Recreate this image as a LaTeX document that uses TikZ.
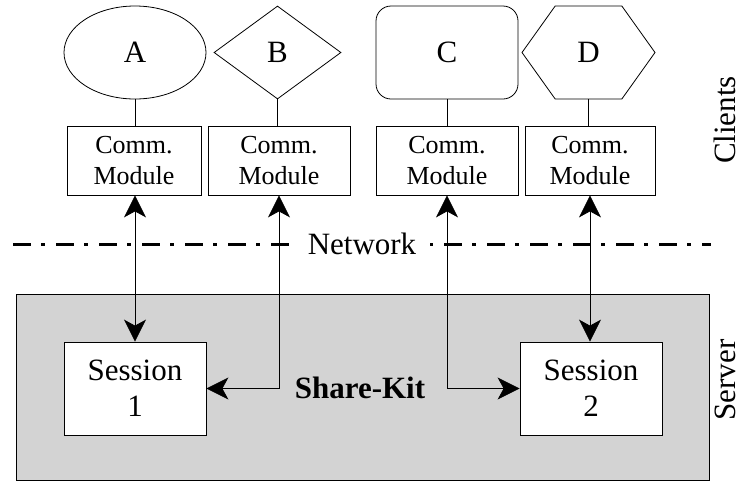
\documentclass[tikz,border=0pt]{standalone}
\usepackage{fontspec}
\setmainfont{Liberation Serif}
\usetikzlibrary{arrows.meta,shapes.geometric,shapes.symbols}

\definecolor{kitgray}{RGB}{211,211,211}

\tikzset{
	client/.style={draw, line width=0.8pt, inner sep=0pt, minimum width=142pt, minimum height=93pt, font=\fontsize{31}{36}\selectfont},
	commbox/.style={draw, line width=0.8pt, inner sep=0pt, minimum height=69pt, align=center, font=\fontsize{26}{31}\selectfont},
	session/.style={draw, line width=0.8pt, fill=white, inner sep=0pt, minimum width=142pt, minimum height=93pt, align=center, font=\fontsize{31}{36}\selectfont},
	link/.style={line width=0.8pt, {Stealth[length=22pt,width=22pt,inset=6pt]}-{Stealth[length=22pt,width=22pt,inset=6pt]}},
	netline/.style={line width=3pt, dash pattern=on 18pt off 10pt on 4pt off 11pt},
	sidelabel/.style={rotate=90, font=\fontsize{31}{36}\selectfont}
}

\begin{document}
\begin{tikzpicture}[x=1pt, y=-1pt]

	\pgfmathsetmacro{\clienty}{52.5}
	\pgfmathsetmacro{\commy}{160.5}
	\pgfmathsetmacro{\sessiony}{388.5}
	\pgfmathsetmacro{\nety}{244}

	\useasboundingbox (0,0) rectangle (743,483);

	% draw server area
	\node[draw, line width=0.8pt, fill=kitgray, minimum width=693pt, minimum height=186pt, inner sep=0pt] (kit) at (362.5, 387) {};
	\node[font=\bfseries\fontsize{31}{36}\selectfont] (kitlabel) at (360, 388) {Share-Kit};

	% draw clients
	\node[client, ellipse] (A) at (135, \clienty) {A};
	\node[client, diamond, minimum width=127pt] (B) at (277.5, \clienty) {B};
	\node[client, rounded corners=15pt] (C) at (447, \clienty) {C};
	\node[client, signal, signal to=west and east, signal pointer angle=109, minimum width=133pt] (D) at (588.5, \clienty) {D};

	% draw communication modules
	\node[commbox, minimum width=134pt] (comm1) at (134, \commy) {Comm.\\Module};
	\node[commbox, minimum width=142pt] (comm2) at (279, \commy) {Comm.\\Module};
	\node[commbox, minimum width=142pt] (comm3) at (447, \commy) {Comm.\\Module};
	\node[commbox, minimum width=130pt] (comm4) at (590, \commy) {Comm.\\Module};

	\foreach \client/\comm in {A/comm1, B/comm2, C/comm3, D/comm4}
		\draw[line width=0.8pt] (\client.south) -- (\client.south |- \comm.north);

	% draw network line
	\node[font=\fontsize{31}{36}\selectfont, inner xsep=14pt] (net) at (362, \nety) {Network};
	\coordinate (netleft) at (13, \nety);
	\coordinate (netright) at (711, \nety);
	\draw[netline] (netleft) -- (net.west);
	\draw[netline, dash phase=29pt] (net.east) -- (netright);

	% draw sessions
	\node[session] (s1) at (135, \sessiony) {Session\\1};
	\node[session] (s2) at (591, \sessiony) {Session\\2};

	% draw connections
	\draw[link] (comm1.south -| A.south) -- (s1.north -| A.south);
	\draw[link] (comm2.south) |- (s1.east);
	\draw[link] (comm3.south) |- (s2.west);
	\draw[link] (comm4.south) -- (s2.north -| comm4.south);

	% side labels
	\node[sidelabel] (clients) at (725, 120) {Clients};
	\node[sidelabel] (server) at (725, 380) {Server};

\end{tikzpicture}
\end{document}
